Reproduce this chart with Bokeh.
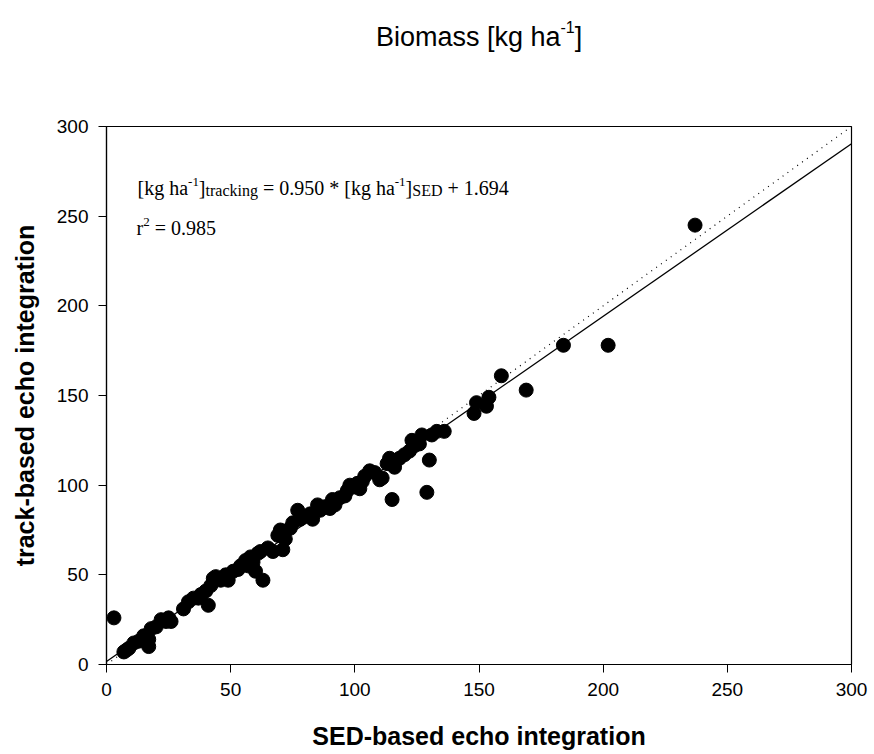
from bokeh.plotting import figure
from bokeh.models import Range1d, Label, FixedTicker
from bokeh.layouts import column
from bokeh.embed import file_html
from bokeh.resources import INLINE

# ---- data ----
sed_based = [3, 7, 8, 9, 11, 13, 15, 17, 17, 18, 20, 22, 24, 25, 26, 31, 33, 35, 37, 38,
             40, 41, 42, 43, 44, 46, 48, 49, 51, 53, 54, 56, 57, 58, 59, 60, 61, 62, 63, 65,
             67, 69, 70, 71, 72, 74, 75, 77, 78, 79, 82, 83, 85, 86, 88, 90, 91, 92, 94, 96,
             97, 98, 100, 101, 102, 103, 104, 106, 108, 110, 111, 113, 114, 115, 116, 116, 118, 120, 122, 123,
             124, 126, 127, 129, 130, 131, 133, 136, 148, 149, 153, 154, 159, 169, 184, 202, 237]
track_based = [26, 7, 8, 9, 12, 13, 16, 10, 14, 20, 21, 25, 24, 26, 24, 31, 35, 37, 37, 39,
               41, 33, 44, 48, 49, 47, 50, 47, 52, 53, 55, 58, 55, 60, 57, 52, 62, 63, 47, 65,
               63, 72, 75, 64, 70, 76, 79, 86, 81, 82, 84, 81, 89, 86, 88, 87, 92, 89, 93, 94,
               97, 100, 99, 101, 98, 102, 105, 108, 107, 103, 104, 112, 115, 92, 110, 113, 115, 117, 119, 125,
               122, 123, 128, 96, 114, 128, 130, 130, 140, 146, 144, 149, 161, 153, 178, 178, 245]
slope = 0.950
intercept = 1.694
r_squared = 0.985
axis_ticks = [0, 50, 100, 150, 200, 250, 300]
identity_x = [0, 300]
identity_y = [0, 300]
fit_line_x = [0, 300]
fit_line_y = [1.7, 290.4]   # end points of the drawn regression line
x_label = "SED-based echo integration"
y_label = "track-based echo integration"

SANS = "Liberation Sans"
SERIF = "Liberation Serif"

# ---------------- title strip (frame aligned with the plot frame: page px 106..851) ----------------
t = figure(width=874, height=112, output_backend="svg", toolbar_location=None,
           x_range=Range1d(106, 851), y_range=Range1d(0, 112),
           min_border_left=106, min_border_right=23, min_border_top=0, min_border_bottom=0)
t.axis.visible = False
t.xgrid.visible = False
t.ygrid.visible = False
t.outline_line_color = None
t.border_fill_color = "white"
t.background_fill_color = "white"


def lab(fig, x, y, text, size, font, align="left", bold=False):
    fig.add_layout(Label(x=x, y=y, text=text, text_font=font, text_font_size=f"{size}px",
                         text_align=align, text_baseline="alphabetic", text_color="black",
                         text_font_style="bold" if bold else "normal"))


lab(t, 375.4, 112 - 36, "Biomass [kg ha", 27, SANS)
lab(t, 560.0, 112 - 26, "-1", 16, SANS)
lab(t, 574.2, 112 - 36, "]", 27, SANS)

# ---------------- main plot ----------------
p = figure(width=874, height=642, output_backend="svg", toolbar_location=None,
           x_range=Range1d(0, 300), y_range=Range1d(0, 300),
           min_border_left=106, min_border_right=23, min_border_top=14, min_border_bottom=90)

p.xgrid.visible = False
p.ygrid.visible = False
p.outline_line_color = "black"
p.outline_line_width = 1.2
p.background_fill_color = "white"
p.border_fill_color = "white"

for ax in (p.xaxis, p.yaxis):
    ax.ticker = FixedTicker(ticks=axis_ticks)
    ax.minor_tick_line_color = None
    ax.major_tick_in = 0
    ax.major_tick_out = 8
    ax.major_tick_line_color = "black"
    ax.axis_line_color = "black"
    ax.axis_line_width = 1.2
    ax.major_label_text_font = SANS
    ax.major_label_text_font_size = "19px"
    ax.major_label_text_color = "black"
    ax.major_label_standoff = 10
    ax.axis_label_text_font = SANS
    ax.axis_label_text_font_size = "25px"
    ax.axis_label_text_font_style = "bold"
    ax.axis_label_text_color = "black"

p.xaxis.axis_label = x_label
p.yaxis.axis_label = y_label
p.xaxis.axis_label_standoff = 23
p.yaxis.axis_label_standoff = 15

# 1:1 dotted line and regression line
p.line(identity_x, identity_y, line_color="black", line_width=1.2, line_dash="1 5")
p.line(fit_line_x, fit_line_y, line_color="black", line_width=1.3)

p.scatter(sed_based, track_based, size=14, marker="circle", fill_color="black", line_color="black")

# equation (positions in data units of the frame)
y_main, y_sup, y_sub = 265.5, 268.9, 264.4
lab(p, 12.48, y_main, "[kg ha", 20, SERIF)
lab(p, 32.84, y_sup, "-1", 13, SERIF)
lab(p, 37.19, y_main, "]", 20, SERIF)
lab(p, 39.88, y_sub, "tracking", 16, SERIF)
lab(p, 63.00, y_main, f"= {slope:.3f} * [kg ha", 20, SERIF)
lab(p, 116.09, y_sup, "-1", 13, SERIF)
lab(p, 120.45, y_main, "]", 20, SERIF)
lab(p, 123.13, y_sub, "SED", 16, SERIF)
lab(p, 137.31, y_main, f"+ {intercept:.3f}", 20, SERIF)

lab(p, 12.08, 243.6, "r", 20, SERIF)
lab(p, 14.76, 246.9, "2", 13, SERIF)
lab(p, 19.46, 243.6, f"= {r_squared:.3f}", 20, SERIF)

layout = column(t, p, spacing=0)
open("out.html", "w").write(file_html(layout, INLINE))
